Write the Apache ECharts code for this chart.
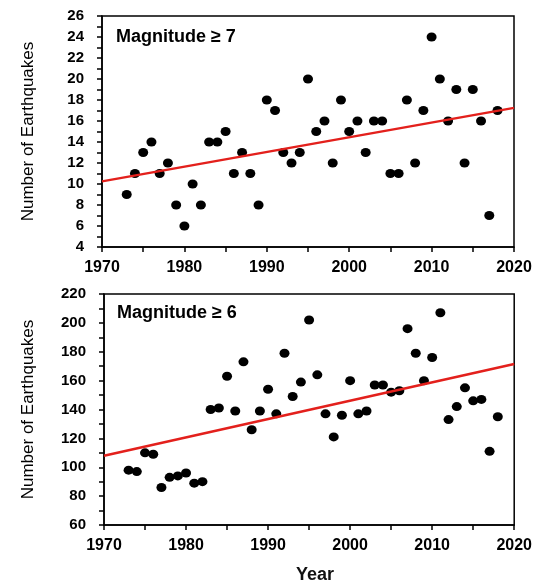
<!DOCTYPE html>
<html><head><meta charset="utf-8">
<script src="https://cdn.jsdelivr.net/npm/echarts@6/dist/echarts.min.js"></script>
<style>html,body{margin:0;padding:0;background:#fff}#c{width:535px;height:581px}</style>
</head><body><div id="c"></div>
<script>
const years = [1973,1974,1975,1976,1977,1978,1979,1980,1981,1982,1983,1984,1985,1986,1987,1988,1989,1990,1991,1992,1993,1994,1995,1996,1997,1998,1999,2000,2001,2002,2003,2004,2005,2006,2007,2008,2009,2010,2011,2012,2013,2014,2015,2016,2017,2018];
const mag7 = [9,11,13,14,11,12,8,6,10,8,14,14,15,11,13,11,8,18,17,13,12,13,20,15,16,12,18,15,16,13,16,16,11,11,18,12,17,24,20,16,19,12,19,16,7,17];
const mag6 = [98,97,110,109,86,93,94,96,89,90,140,141,163,139,173,126,139,154,137,179,149,159,202,164,137,121,136,160,137,139,157,157,152,153,196,179,160,176,207,133,142,155,146,147,111,135];
const trendYears = [1970,2020];
const trend7 = [10.25,17.25];
const trend6 = [108,171.5];
const xTicks = [1970,1980,1990,2000,2010,2020];

const pair = (xs, ys) => xs.map((x,i)=>[x,ys[i]]);
const fontB = 'Liberation Sans, Arial, sans-serif';
function xAxis(gi){
  return {gridIndex:gi,type:'value',min:1970,max:2020,interval:5,
    axisLine:{show:true,lineStyle:{color:'#000',width:1.5}},
    axisTick:{show:true,inside:false,length:5,lineStyle:{color:'#000',width:1.5}},
    axisLabel:{color:'#000',fontWeight:'bold',fontSize:16,fontFamily:fontB,margin:13,
      formatter:v=>xTicks.includes(v)?String(v):''},
    splitLine:{show:false}};
}
function yAxis(gi,min,max,intv,lab){
  return {gridIndex:gi,type:'value',min:min,max:max,interval:intv,
    name:'Number of Earthquakes',nameLocation:'middle',nameGap:gi===0?65:67,
    nameTextStyle:{fontSize:17,color:'#000',fontFamily:fontB},
    axisLine:{show:true,lineStyle:{color:'#000',width:1.5}},
    axisTick:{show:true,length:5,lineStyle:{color:'#000',width:1.5}},
    axisLabel:{color:'#000',fontWeight:'bold',fontSize:15,fontFamily:fontB,margin:18,
      formatter:v=>(Math.round(v-min)%lab===0)?String(v):''},
    splitLine:{show:false}};
}
const chart = echarts.init(document.getElementById('c'));
chart.setOption({
  animation:false,
  title:[
    {text:'Magnitude \u2265 7',left:111,top:23,textStyle:{fontSize:18,fontWeight:'bold',color:'#000',fontFamily:fontB}},
    {text:'Magnitude \u2265 6',left:112,top:299,textStyle:{fontSize:18,fontWeight:'bold',color:'#000',fontFamily:fontB}},
    {text:'Year',left:310,top:561,textAlign:'center',textStyle:{fontSize:18,fontWeight:'bold',color:'#111',fontFamily:fontB}}
  ],
  grid:[
    {left:102,top:16,width:412,height:231,show:true,borderColor:'#000',borderWidth:1.5,backgroundColor:'transparent'},
    {left:104,top:294,width:413,height:231,show:true,borderColor:'#000',borderWidth:1.5,backgroundColor:'transparent'}
  ],
  xAxis:[xAxis(0),xAxis(1)],
  yAxis:[yAxis(0,4,26,1,2),yAxis(1,60,220,10,20)],
  series:[
    {type:'scatter',xAxisIndex:0,yAxisIndex:0,data:pair(years,mag7),symbol:'circle',symbolSize:[10,9],itemStyle:{color:'#000',opacity:1}},
    {type:'line',xAxisIndex:0,yAxisIndex:0,data:pair(trendYears,trend7),symbol:'none',lineStyle:{color:'#e3201c',width:2.5}},
    {type:'scatter',xAxisIndex:1,yAxisIndex:1,data:pair(years,mag6),symbol:'circle',symbolSize:[10,9],itemStyle:{color:'#000',opacity:1}},
    {type:'line',xAxisIndex:1,yAxisIndex:1,data:pair(trendYears,trend6),symbol:'none',lineStyle:{color:'#e3201c',width:2.5}}
  ]
});
</script></body></html>
